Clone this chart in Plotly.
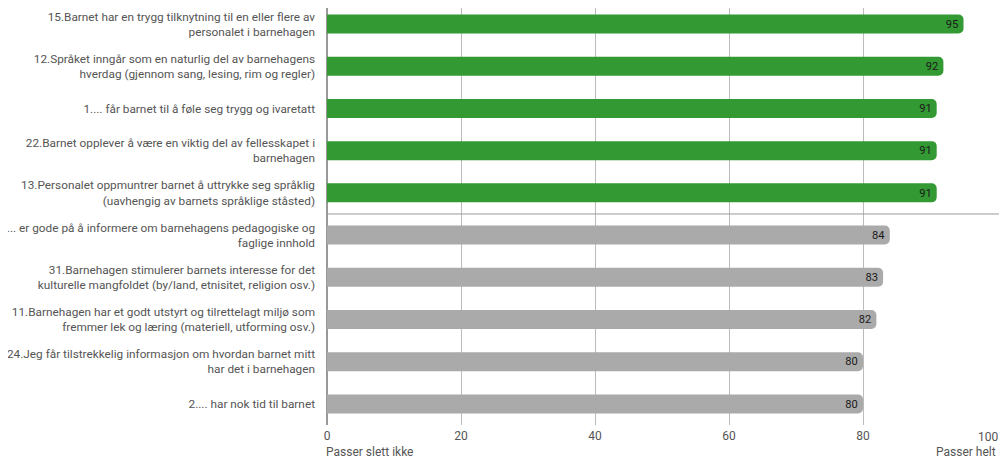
import plotly.graph_objects as go

categories = [
    "15.Barnet har en trygg tilknytning til en eller flere av<br>personalet i barnehagen",
    "12.Språket inngår som en naturlig del av barnehagens<br>hverdag (gjennom sang, lesing, rim og regler)",
    "1.... får barnet til å føle seg trygg og ivaretatt",
    "22.Barnet opplever å være en viktig del av fellesskapet i<br>barnehagen",
    "13.Personalet oppmuntrer barnet å uttrykke seg språklig<br>(uavhengig av barnets språklige ståsted)",
    "3.... er gode på å informere om barnehagens pedagogiske og<br>faglige innhold",
    "31.Barnehagen stimulerer barnets interesse for det<br>kulturelle mangfoldet (by/land, etnisitet, religion osv.)",
    "11.Barnehagen har et godt utstyrt og tilrettelagt miljø som<br>fremmer lek og læring (materiell, utforming osv.)",
    "24.Jeg får tilstrekkelig informasjon om hvordan barnet mitt<br>har det i barnehagen",
    "2.... har nok tid til barnet",
]
values = [95, 92, 91, 91, 91, 84, 83, 82, 80, 80]
groups = ["top", "top", "top", "top", "top", "rest", "rest", "rest", "rest", "rest"]
tick_vals = [0, 20, 40, 60, 80, 100]
tick_text = ["0", "20", "40", "60", "80", "100"]
axis_left_label = "Passer slett ikke"
axis_right_label = "Passer helt"

GREEN = "#339933"
GREY = "#aaaaaa"
colors = [GREEN if g == "top" else GREY for g in groups]
AXFONT = dict(family="Roboto", size=12, color="#555555")

fig = go.Figure()
fig.add_trace(go.Bar(
    x=values, y=categories, orientation="h",
    marker=dict(color=colors, cornerradius=5, line=dict(width=0)),
    width=0.45,
    text=[str(v) for v in values], textposition="inside",
    insidetextanchor="end", textangle=0,
    textfont=dict(family="Roboto", size=12, color="#1a1a1a"),
    hoverinfo="x+y",
))

fig.add_shape(type="line", xref="paper", x0=0, x1=1.004, yref="y",
              y0=4.5, y1=4.5, line=dict(color="#999999", width=1))

# last tick label placed right-aligned at the axis end (so it stays inside the page)
fig.add_annotation(x=tick_vals[-1], y=0, xref="x", yref="paper", yshift=-3, xshift=3,
                   text=tick_text[-1], showarrow=False, xanchor="right", yanchor="top",
                   font=AXFONT)
fig.add_annotation(x=0, y=0, xref="x", yref="paper", yshift=-18, xshift=-3, text=axis_left_label,
                   showarrow=False, xanchor="left", yanchor="top", font=AXFONT)
fig.add_annotation(x=100, y=0, xref="x", yref="paper", yshift=-18, xshift=1, text=axis_right_label,
                   showarrow=False, xanchor="right", yanchor="top", font=AXFONT)

fig.update_layout(
    width=999, height=467,
    margin=dict(l=319, r=10, t=0, b=50),
    paper_bgcolor="white", plot_bgcolor="white",
    showlegend=False,
    font=dict(family="Roboto", size=12, color="#555555"),
    xaxis=dict(range=[0, 100], tickvals=tick_vals, ticktext=tick_text[:-1] + [""],
               showgrid=True, gridcolor="#bbbbbb", gridwidth=1, zeroline=True,
               zerolinecolor="#999999", ticks="", fixedrange=True,
               ticklabelstandoff=2, tickfont=AXFONT),
    yaxis=dict(range=[9.5, -0.38], automargin=False, ticks="",
               ticklabelstandoff=11,
               tickfont=dict(family="Roboto", size=11.8, color="#555555")),
    bargap=0.55,
)

fig.write_html("out.html")
